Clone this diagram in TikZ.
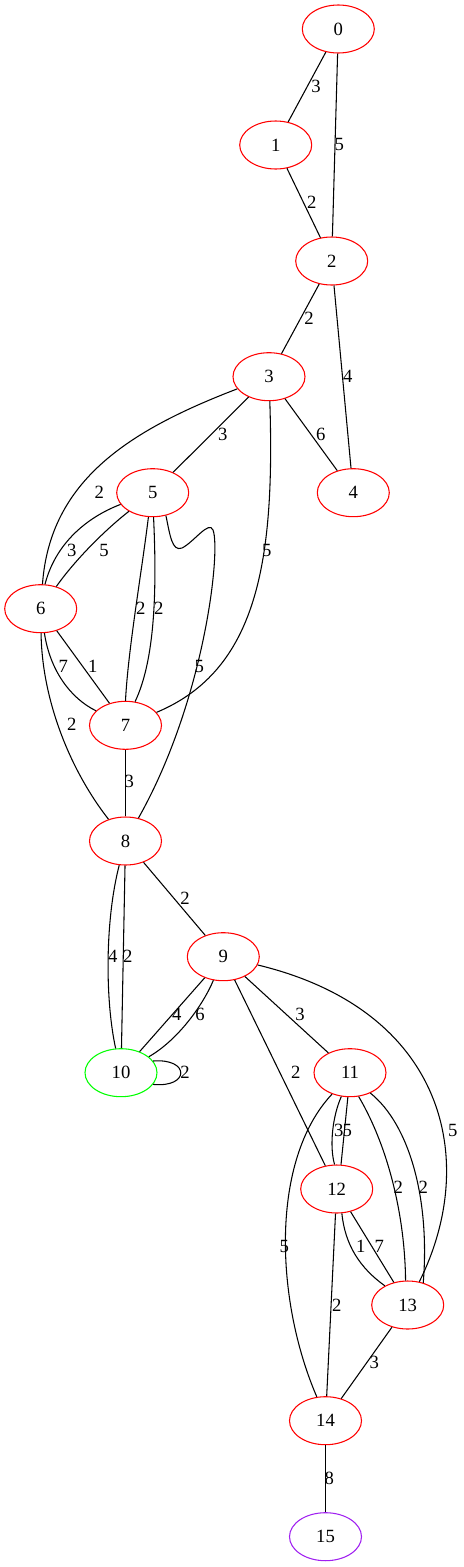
\documentclass[tikz,border=0pt]{standalone}
\usepackage{fontspec}
\setmainfont{Liberation Serif}
\usetikzlibrary{arrows}
\usetikzlibrary{shapes}
\definecolor{vgreen}{HTML}{00FF00}
\definecolor{vpurple}{HTML}{A020F0}

\begin{document}
\begin{tikzpicture}[x = 0.75pt, y = -0.75pt, font = \fontsize{14}{16}\selectfont]
	\tikzstyle{VertexStyle} = [shape = ellipse, minimum width = 54pt, minimum height = 36pt, inner sep = 0pt, line width = 0.8pt, draw = red]
	\tikzstyle{sourceStyle} = [VertexStyle, draw = vgreen]
	\tikzstyle{sinkStyle} = [VertexStyle, draw = vpurple]
	\tikzstyle{EdgeStyle} = [line width = 0.8pt]
	\tikzstyle{weightStyle} = [inner sep = 0pt]
	\useasboundingbox (0,0) rectangle (464,1567);
	\node[VertexStyle] (v0) at (338.3,29) {0};
	\node[VertexStyle] (v1) at (275.7,145) {1};
	\node[VertexStyle] (v2) at (331.7,261) {2};
	\node[VertexStyle] (v3) at (269,376.7) {3};
	\node[VertexStyle] (v4) at (353.3,492.7) {4};
	\node[VertexStyle] (v5) at (152.7,492.7) {5};
	\node[VertexStyle] (v6) at (40.7,608.7) {6};
	\node[VertexStyle] (v7) at (125.5,725.3) {7};
	\node[VertexStyle] (v8) at (125.5,841) {8};
	\node[VertexStyle] (v9) at (223.3,956.7) {9};
	\node[sourceStyle] (v10) at (121,1072.7) {10};
	\node[VertexStyle] (v11) at (350,1072.7) {11};
	\node[VertexStyle] (v12) at (336.7,1189) {12};
	\node[VertexStyle] (v13) at (407.7,1305) {13};
	\node[VertexStyle] (v14) at (325.5,1420.7) {14};
	\node[sinkStyle] (v15) at (325.5,1536.7) {15};
	\draw[EdgeStyle] (v0) -- (v1) node[weightStyle] at (316,86.7) {3};
	\draw[EdgeStyle] (v0) -- (v2) node[weightStyle] at (339.3,144.3) {5};
	\draw[EdgeStyle] (v1) -- (v2) node[weightStyle] at (311.7,202.3) {2};
	\draw[EdgeStyle] (v2) -- (v3) node[weightStyle] at (309,318.3) {2};
	\draw[EdgeStyle] (v2) -- (v4) node[weightStyle] at (347.7,376.7) {4};
	\draw[EdgeStyle] (v3) -- (v4) node[weightStyle] at (320.7,434.3) {6};
	\draw[EdgeStyle] (v3) -- (v5) node[weightStyle] at (222.7,434) {3};
	\draw[EdgeStyle] (v3) .. controls (130,430) and (50,480) .. (v6) node[weightStyle] at (99.3,492.7) {2};
	\draw[EdgeStyle] (v3) .. controls (275,560) and (258,670) .. (v7) node[weightStyle] at (266.7,550) {5};
	\draw[EdgeStyle] (v5.200) .. controls (85,518) and (55,545) .. (v6.80) node[weightStyle] at (71.7,550) {3};
	\draw[EdgeStyle] (v5) .. controls (105,530) and (75,560) .. (v6) node[weightStyle] at (104,550) {5};
	\draw[EdgeStyle] (v5.-100) .. controls (142,570) and (128,650) .. (v7.90) node[weightStyle] at (140.7,608.3) {2};
	\draw[EdgeStyle] (v5.-88) .. controls (157,590) and (155,660) .. (v7.68) node[weightStyle] at (158.7,608.3) {2};
	\draw[EdgeStyle] (v5.-60) .. controls (170,535) and (172,552) .. (182,548) .. controls (194,542) and (209,520) .. (213,530) .. controls (221,550) and (205,700) .. (v8) node[weightStyle] at (199.3,666) {5};
	\draw[EdgeStyle] (v6) .. controls (50,670) and (70,698) .. (v7) node[weightStyle] at (63.3,666) {7};
	\draw[EdgeStyle] (v6) -- (v7) node[weightStyle] at (92.7,666) {1};
	\draw[EdgeStyle] (v6) .. controls (42,700) and (70,770) .. (v8) node[weightStyle] at (71.7,724.3) {2};
	\draw[EdgeStyle] (v7) -- (v8) node[weightStyle] at (129.3,781.7) {3};
	\draw[EdgeStyle] (v8) -- (v9) node[weightStyle] at (185,898.3) {2};
	\draw[EdgeStyle] (v8) .. controls (105,920) and (105,1000) .. (v10) node[weightStyle] at (112.7,956.7) {4};
	\draw[EdgeStyle] (v8) -- (v10) node[weightStyle] at (127.7,956.7) {2};
	\draw[EdgeStyle] (v9) -- (v10) node[weightStyle] at (176.7,1014.3) {4};
	\draw[EdgeStyle] (v9) .. controls (203,1005) and (178,1040) .. (v10) node[weightStyle] at (200,1014.3) {6};
	\draw[EdgeStyle] (v10.20) .. controls (190,1058) and (190,1088) .. (v10.-20) node[weightStyle] at (185,1072.7) {2};
	\draw[EdgeStyle] (v9) -- (v11) node[weightStyle] at (300,1014.3) {3};
	\draw[EdgeStyle] (v9) -- (v12) node[weightStyle] at (295.7,1072.7) {2};
	\draw[EdgeStyle] (v9) .. controls (445,1010) and (480,1160) .. (v13) node[weightStyle] at (452.7,1130) {5};
	\draw[EdgeStyle] (v11.-110) .. controls (333,1115) and (329,1145) .. (v12.95) node[weightStyle] at (338.7,1130) {3};
	\draw[EdgeStyle] (v11.-95) -- (v12.80) node[weightStyle] at (347.3,1130) {5};
	\draw[EdgeStyle] (v11.-70) .. controls (390,1150) and (405,1220) .. (v13.95) node[weightStyle] at (398.3,1187.7) {2};
	\draw[EdgeStyle] (v11.-45) .. controls (410,1125) and (430,1200) .. (v13.55) node[weightStyle] at (423.3,1187.7) {2};
	\draw[EdgeStyle] (v11.-130) .. controls (270,1160) and (275,1300) .. (v14.110) node[weightStyle] at (284.3,1246) {5};
	\draw[EdgeStyle] (v12.-78) .. controls (345,1245) and (360,1268) .. (v13.140) node[weightStyle] at (360.7,1246.7) {1};
	\draw[EdgeStyle] (v12) -- (v13) node[weightStyle] at (379.3,1246.7) {7};
	\draw[EdgeStyle] (v12) -- (v14) node[weightStyle] at (336.7,1305) {2};
	\draw[EdgeStyle] (v13) -- (v14) node[weightStyle] at (374.3,1362.3) {3};
	\draw[EdgeStyle] (v14) -- (v15) node[weightStyle] at (329.3,1478.3) {8};
\end{tikzpicture}
\end{document}
